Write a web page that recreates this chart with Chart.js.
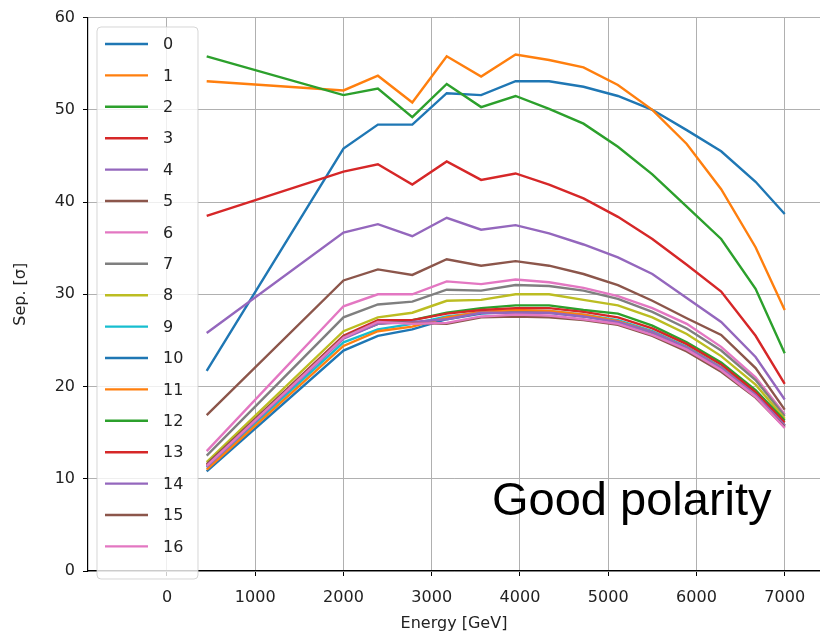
<!DOCTYPE html>
<html>
<head>
<meta charset="utf-8">
<script src="https://cdn.jsdelivr.net/npm/chart.js@4.4.0/dist/chart.umd.min.js"></script>
<style>
  body { margin: 0; background: #fff; }
  canvas { display: block; }
</style>
</head>
<body>
<canvas id="sepChart" width="820" height="633"></canvas>
<script>
var energy = [450, 2000, 2390, 2780, 3170, 3560, 3950, 4330, 4720, 5110, 5500, 5890, 6280, 6670, 7000];

var sep0  = [21.7, 45.8, 48.4, 48.4, 51.8, 51.6, 53.1, 53.1, 52.5, 51.5, 50.0, 47.8, 45.5, 42.2, 38.7];
var sep1  = [53.1, 52.1, 53.7, 50.8, 55.8, 53.6, 56.0, 55.4, 54.6, 52.7, 50.0, 46.3, 41.4, 35.1, 28.3];
var sep2  = [55.8, 51.6, 52.3, 49.2, 52.8, 50.3, 51.5, 50.1, 48.5, 46.0, 43.0, 39.5, 36.0, 30.6, 23.6];
var sep3  = [38.5, 43.3, 44.1, 41.9, 44.4, 42.4, 43.1, 41.9, 40.4, 38.4, 36.0, 33.2, 30.3, 25.5, 20.3];
var sep4  = [25.8, 36.7, 37.6, 36.3, 38.3, 37.0, 37.5, 36.6, 35.4, 34.0, 32.2, 29.6, 27.0, 23.2, 18.6];
var sep5  = [16.9, 31.5, 32.7, 32.1, 33.8, 33.1, 33.6, 33.1, 32.2, 31.0, 29.3, 27.4, 25.6, 22.0, 17.5];
var sep6  = [13.0, 28.7, 30.0, 30.0, 31.4, 31.1, 31.6, 31.3, 30.7, 29.8, 28.5, 26.8, 24.3, 21.0, 17.0];
var sep7  = [12.5, 27.5, 28.9, 29.2, 30.5, 30.4, 31.0, 30.9, 30.4, 29.5, 28.1, 26.3, 23.9, 20.7, 16.8];
var sep8  = [11.8, 26.0, 27.5, 28.0, 29.3, 29.4, 30.0, 30.0, 29.4, 28.8, 27.5, 25.7, 23.3, 20.2, 16.5];
var sep9  = [11.2, 24.8, 26.2, 26.8, 27.6, 28.0, 28.2, 28.2, 27.8, 27.2, 26.0, 24.3, 22.1, 19.2, 15.8];
var sep10 = [10.8, 23.9, 25.5, 26.2, 27.3, 27.9, 28.1, 28.0, 27.6, 27.0, 25.8, 24.1, 21.9, 19.0, 15.7];
var sep11 = [11.0, 24.4, 26.0, 26.5, 27.5, 28.1, 28.3, 28.2, 27.8, 27.1, 25.9, 24.2, 22.0, 19.1, 15.8];
var sep12 = [11.4, 25.3, 26.8, 27.2, 28.0, 28.5, 28.8, 28.8, 28.3, 27.9, 26.6, 24.8, 22.6, 19.6, 16.3];
var sep13 = [11.5, 25.5, 27.2, 27.2, 27.9, 28.3, 28.5, 28.5, 28.1, 27.5, 26.3, 24.6, 22.4, 19.4, 16.1];
var sep14 = [11.3, 25.2, 26.8, 27.0, 27.3, 28.0, 28.0, 28.0, 27.6, 27.0, 25.9, 24.2, 22.0, 19.1, 15.8];
var sep15 = [11.6, 25.4, 27.0, 26.9, 26.8, 27.5, 27.6, 27.5, 27.2, 26.7, 25.5, 23.8, 21.6, 18.8, 15.6];
var sep16 = [11.4, 25.3, 27.0, 26.8, 26.9, 27.6, 27.8, 27.7, 27.3, 26.8, 25.6, 24.0, 21.8, 18.9, 15.5];

var seriesNames = ['0','1','2','3','4','5','6','7','8','9','10','11','12','13','14','15','16'];
var seriesValues = [sep0, sep1, sep2, sep3, sep4, sep5, sep6, sep7, sep8, sep9, sep10, sep11, sep12, sep13, sep14, sep15, sep16];
var xTickValues = [0, 1000, 2000, 3000, 4000, 5000, 6000, 7000];

var tab10 = ['#1f77b4','#ff7f0e','#2ca02c','#d62728','#9467bd','#8c564b','#e377c2','#7f7f7f','#bcbd22','#17becf'];
var FONT = 'DejaVu Sans';

function buildDatasets(){
    return seriesValues.map(function(vals, i){
        return {
            label: seriesNames[i],
            data: vals.map(function(v, j){ return { x: energy[j], y: v }; }),
            borderColor: tab10[i % 10],
            backgroundColor: tab10[i % 10],
            borderWidth: 2.4,
            pointRadius: 0,
            tension: 0,
            fill: false,
            order: -i
        };
    });
}

// legend box drawn inside the plot, matplotlib style
var insideLegend = {
    id: 'insideLegend',
    afterDatasetsDraw: function(chart){
        var ctx = chart.ctx;
        var left = 97, top = 27, w = 101, h = 552, rowH = 31.4;
        ctx.save();
        ctx.beginPath();
        ctx.roundRect(left, top, w, h, 4);
        ctx.fillStyle = 'rgba(255,255,255,0.8)';
        ctx.fill();
        ctx.strokeStyle = 'rgba(204,204,204,0.8)';
        ctx.lineWidth = 1;
        ctx.stroke();
        ctx.font = '16px "' + FONT + '"';
        ctx.textBaseline = 'middle';
        ctx.textAlign = 'left';
        chart.data.datasets.forEach(function(ds, i){
            var y = top + 17 + i * rowH;
            ctx.beginPath();
            ctx.moveTo(105, y);
            ctx.lineTo(148, y);
            ctx.strokeStyle = ds.borderColor;
            ctx.lineWidth = 2.4;
            ctx.stroke();
            ctx.fillStyle = '#222';
            ctx.fillText(ds.label, 163, y + 1);
        });
        ctx.restore();
    }
};

var polarityNote = {
    id: 'polarityNote',
    afterDraw: function(chart){
        var ctx = chart.ctx;
        ctx.save();
        ctx.font = '47px "Liberation Sans"';
        ctx.fillStyle = '#000';
        ctx.textAlign = 'left';
        ctx.textBaseline = 'alphabetic';
        ctx.fillText('Good polarity', 492, 515);
        ctx.restore();
    }
};

var ctx = document.getElementById('sepChart').getContext('2d');
var sepChart = new Chart(ctx, {
    type: 'line',
    data: { datasets: buildDatasets() },
    plugins: [insideLegend, polarityNote],
    options: {
        responsive: false,
        animation: false,
        layout: { padding: { top: 17, right: 0, bottom: 0, left: 0 } },
        plugins: {
            legend: { display: false },
            tooltip: { enabled: false }
        },
        scales: {
            x: {
                type: 'linear',
                min: -895,
                max: 7400,
                afterBuildTicks: function(scale){
                    scale.ticks = xTickValues.map(function(v){ return { value: v }; });
                },
                afterFit: function(scale){ scale.height = 62; },
                grid: { color: '#b0b0b0', lineWidth: 1, tickColor: '#000', tickLength: 5 },
                border: { color: '#000', width: 1.2 },
                ticks: {
                    color: '#222', font: { family: FONT, size: 16 }, padding: 12, maxRotation: 0,
                    callback: function(v){ return String(v); }
                },
                title: { display: true, text: 'Energy [GeV]', color: '#222', font: { family: FONT, size: 16 }, padding: { top: 0, bottom: 0 } }
            },
            y: {
                min: 0,
                max: 60,
                afterFit: function(scale){ scale.width = 88; },
                grid: { color: '#b0b0b0', lineWidth: 1, tickColor: '#000', tickLength: 5 },
                border: { color: '#000', width: 1.2 },
                ticks: { stepSize: 10, color: '#222', font: { family: FONT, size: 16 }, padding: 8 },
                title: { display: true, text: 'Sep. [σ]', color: '#222', font: { family: FONT, size: 16 }, padding: { top: 11, bottom: 0 } }
            }
        }
    }
});
</script>
</body>
</html>
